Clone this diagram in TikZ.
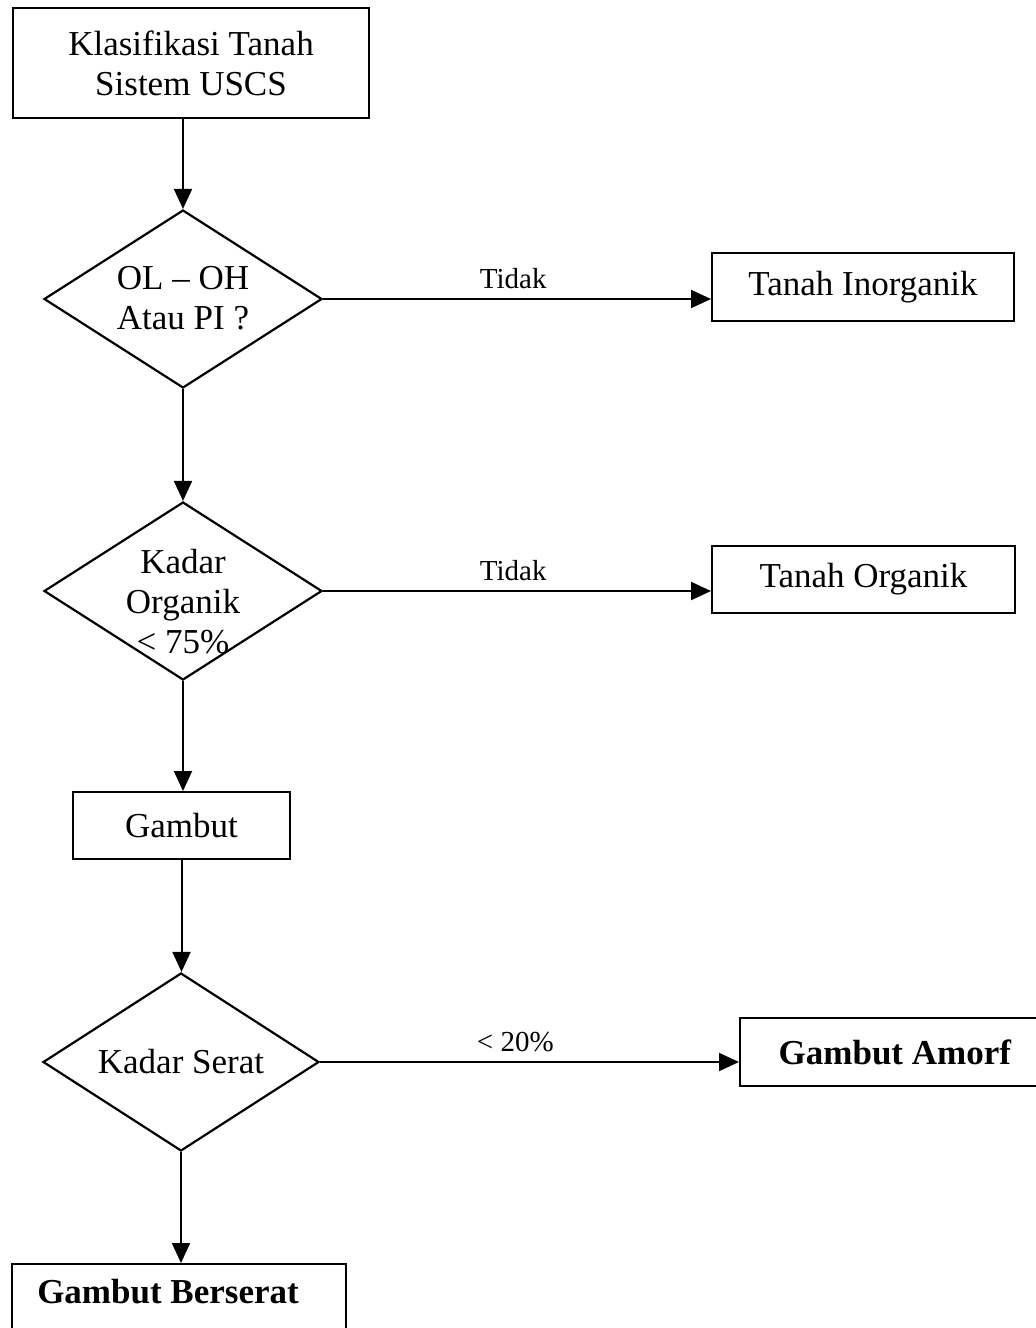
\documentclass[tikz,border=0pt]{standalone}
\usepackage{fontspec}
\setmainfont{Liberation Serif}
\usetikzlibrary{shapes.geometric,arrows.meta}
% text of a decision, kept out of the diamond's size
\newcommand{\dtext}[2]{\makebox[0pt]{\smash{\raisebox{#1}{\begin{tabular}{@{}c@{}}#2\end{tabular}}}}}

\begin{document}
\begin{tikzpicture}[x=0.5pt,y=-0.5pt,
    box/.style={draw,line width=1pt,inner sep=0pt,align=center,font=\fontsize{17.5}{20}\selectfont},
    cond/.style={draw,diamond,line width=1.1pt,inner sep=0pt,minimum width=139pt,minimum height=89pt,font=\fontsize{17.5}{20}\selectfont},
    arr/.style={line width=1pt,-{Triangle[length=10pt,width=9pt]}},
    lbl/.style={above=4.5pt,inner sep=0pt,font=\fontsize{14.5}{16}\selectfont}]
    \useasboundingbox (0,0) rectangle (1035,1328);

    % draw boxes
    \node[box,minimum width=178pt,minimum height=55pt] (uscs) at (191,63) {Klasifikasi Tanah\\Sistem USCS};
    \node[box,minimum width=151pt,minimum height=34pt] (inorg) at (863,287) {Tanah Inorganik};
    \node[box,minimum width=151.5pt,minimum height=33.5pt] (org) at (863.5,579.5) {Tanah Organik};
    \node[box,minimum width=108.5pt,minimum height=33.5pt] (gambut) at (181.5,825.5) {Gambut};
    \node[box,minimum width=155pt,minimum height=34pt] (amorf) at (895,1052) {\textbf{Gambut Amorf}};
    \node[box,anchor=north,minimum width=167pt,text height=19.5pt,text depth=20.5pt] (bers) at (179,1263) {\hspace*{-11pt}\textbf{Gambut Berserat}};

    % draw decisions
    \node[cond] (d1) at (183,299) {\dtext{-5.5pt}{OL -- OH\\Atau PI ?}};
    \node[cond] (d2) at (183,591) {\dtext{-11.5pt}{Kadar\\Organik\\< 75\%}};
    \node[cond,minimum width=138pt] (d3) at (181,1062) {\dtext{-6pt}{Kadar Serat}};

    % draw vertical arrows
    \draw[arr] (d1.north |- uscs.south) -- (d1.north);
    \draw[arr] (d1.south) -- (d2.north);
    \draw[arr] (d2.south) -- (d2.south |- gambut.north);
    \draw[arr] (gambut.south) -- (gambut.south |- d3.north);
    \draw[arr] (d3.south) -- (d3.south |- bers.north);

    % draw horizontal arrows
    \draw[arr] (d1.east) -- node[lbl,pos=0.49] {Tidak} (d1.east -| inorg.west);
    \draw[arr] (d2.east) -- node[lbl,pos=0.49] {Tidak} (d2.east -| org.west);
    \draw[arr] (d3.east) -- node[lbl,pos=0.466] {< 20\%} (d3.east -| amorf.west);
\end{tikzpicture}
\end{document}
